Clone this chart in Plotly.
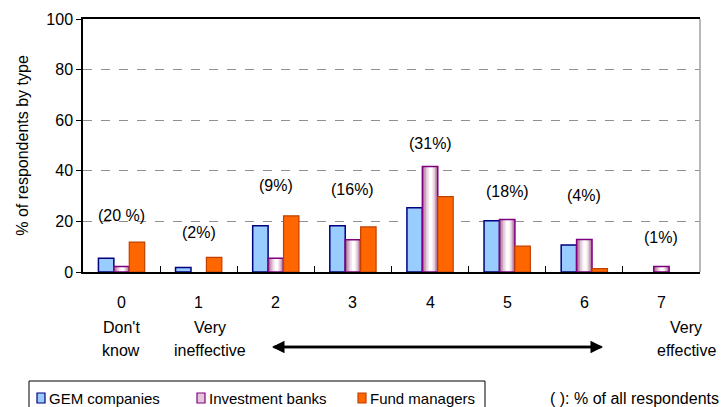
import plotly.graph_objects as go

# ---- data ----
categories = [0, 1, 2, 3, 4, 5, 6, 7]
tick_labels = ["0", "1", "2", "3", "4", "5", "6", "7"]
gem_companies = [5.4, 1.8, 18.3, 18.3, 25.4, 20.3, 10.7, 0]
investment_banks = [2.2, 0, 5.4, 12.7, 41.7, 20.8, 12.8, 2.2]
fund_managers = [11.8, 5.8, 22.2, 17.8, 29.8, 10.2, 1.3, 0]
all_pct_labels = ["(20 %)", "(2%)", "(9%)", "(16%)", "(31%)", "(18%)", "(4%)", "(1%)"]
series_names = ["GEM companies", "Investment banks", "Fund managers"]

# ---- layout helpers (positions, not data) ----
label_y = [22.4, 15.7, 34.0, 32.5, 50.6, 31.8, 30.2, 13.7]
W, H = 723, 407
ML, MR, MT, MB = 83, 23, 19, 135
PW, PH = W - ML - MR, H - MT - MB
FONT = "Liberation Sans, Arial, sans-serif"
FS = 16
FS_LEG = 15


def pxx(x):
    return (x - ML) / PW


def pxy(y):
    return (H - MB - y) / PH


def nz(vals):
    return [v if v > 0 else None for v in vals]


def txt(x, y, t, xref="paper", yref="paper", xanchor="center", size=FS):
    return dict(x=x, y=y, xref=xref, yref=yref, text=t, showarrow=False,
                xanchor=xanchor, yanchor="middle",
                font=dict(family=FONT, size=size, color="black"))


BW = 0.2
fig = go.Figure()
fig.add_trace(go.Bar(x=categories, y=nz(gem_companies), offset=-0.3, width=BW,
                     marker=dict(color="#99CCFF", line=dict(color="#000080", width=1.5)),
                     name=series_names[0], showlegend=False))
# purple gradient layers
for w, c in [(0.2, "#A86C90"), (0.16, "#C89CB8"), (0.12, "#E2C8D8"), (0.08, "#F4E8EF"), (0.04, "#FFFFFF")]:
    fig.add_trace(go.Bar(x=categories, y=nz(investment_banks), offset=-w / 2 + 0.01 * (0.2 - w) / 0.2, width=w,
                         marker=dict(color=c, line=dict(width=0)),
                         showlegend=False, hoverinfo="skip"))
fig.add_trace(go.Bar(x=categories, y=nz(investment_banks), offset=-0.1, width=BW,
                     marker=dict(color="rgba(0,0,0,0)", line=dict(color="#800080", width=1.5)),
                     name=series_names[1], showlegend=False))
fig.add_trace(go.Bar(x=categories, y=nz(fund_managers), offset=0.1, width=BW,
                     marker=dict(color="#FF6600", line=dict(color="#C04000", width=1.2)),
                     name=series_names[2], showlegend=False))

ann = []
for c, t, ly in zip(categories, all_pct_labels, label_y):
    ann.append(txt(c, ly, t, xref="x", yref="y"))
for c, t in zip(categories, tick_labels):
    ann.append(txt(c, pxy(302), t, xref="x"))
desc = [("Don't", "know", 121), ("Very", "ineffective", 210), ("Very", "effective", 686)]
for a, b, x in desc:
    ann.append(txt(pxx(x), pxy(327), a))
    ann.append(txt(pxx(x), pxy(350), b))

# double-headed arrow
for x0, x1 in [(603, 272), (272, 603)]:
    ann.append(dict(x=pxx(x1), y=pxy(347), ax=x0 - x1, ay=0, xref="paper", yref="paper",
                    axref="pixel", ayref="pixel", text="", showarrow=True, arrowhead=2,
                    arrowsize=1, arrowwidth=2.5, arrowcolor="black"))

# manual legend
legend_items = [(37, "#99CCFF", "#000080", series_names[0]),
                (197, "#E2C8D8", "#800080", series_names[1]),
                (358, "#FF6600", "#C04000", series_names[2])]
shapes = [dict(type="rect", xref="paper", yref="paper", x0=pxx(29), x1=pxx(485), y0=pxy(381), y1=pxy(420),
               line=dict(color="black", width=1), fillcolor="white", layer="below"),
          dict(type="line", xref="paper", yref="paper", x0=1, x1=1, y0=0, y1=1,
               line=dict(color="#A0A0A0", width=1.5))]
for x, fc, lc, name in legend_items:
    shapes.append(dict(type="rect", xref="paper", yref="paper", x0=pxx(x), x1=pxx(x + 8),
                       y0=pxy(403), y1=pxy(393), fillcolor=fc, line=dict(color=lc, width=1.2)))
    ann.append(txt(pxx(x + 10), pxy(398), name, xanchor="left", size=FS_LEG))
ann.append(txt(pxx(721), pxy(398), "( ): % of all respondents", xanchor="right"))

fig.update_layout(
    width=W, height=H, margin=dict(l=ML, r=MR, t=MT, b=MB),
    paper_bgcolor="white", plot_bgcolor="white", barmode="overlay",
    annotations=ann, shapes=shapes,
    font=dict(family=FONT, size=FS, color="black"),
    xaxis=dict(range=[-0.5, 7.5], tickvals=categories, ticktext=[""] * 8, ticks="", showgrid=False,
               showline=True, linecolor="black", linewidth=1.5, mirror=True, zeroline=False,
               minor=dict(tickvals=[0.5, 1.5, 2.5, 3.5, 4.5, 5.5, 6.5], ticks="inside", ticklen=6,
                          tickcolor="black", tickwidth=1.2, showgrid=False)),
    yaxis=dict(range=[0, 100], tickvals=[0, 20, 40, 60, 80, 100], ticks="outside", ticklen=5,
               tickcolor="black", showline=True, linecolor="black", linewidth=1.5,
               showgrid=True, gridcolor="#909090", griddash="dash", gridwidth=1, zeroline=False,
               tickfont=dict(family=FONT, size=FS, color="black"),
               title=dict(text="% of respondents by type", standoff=14,
                          font=dict(family=FONT, size=FS, color="black"))),
)

fig.write_html("out.html")
